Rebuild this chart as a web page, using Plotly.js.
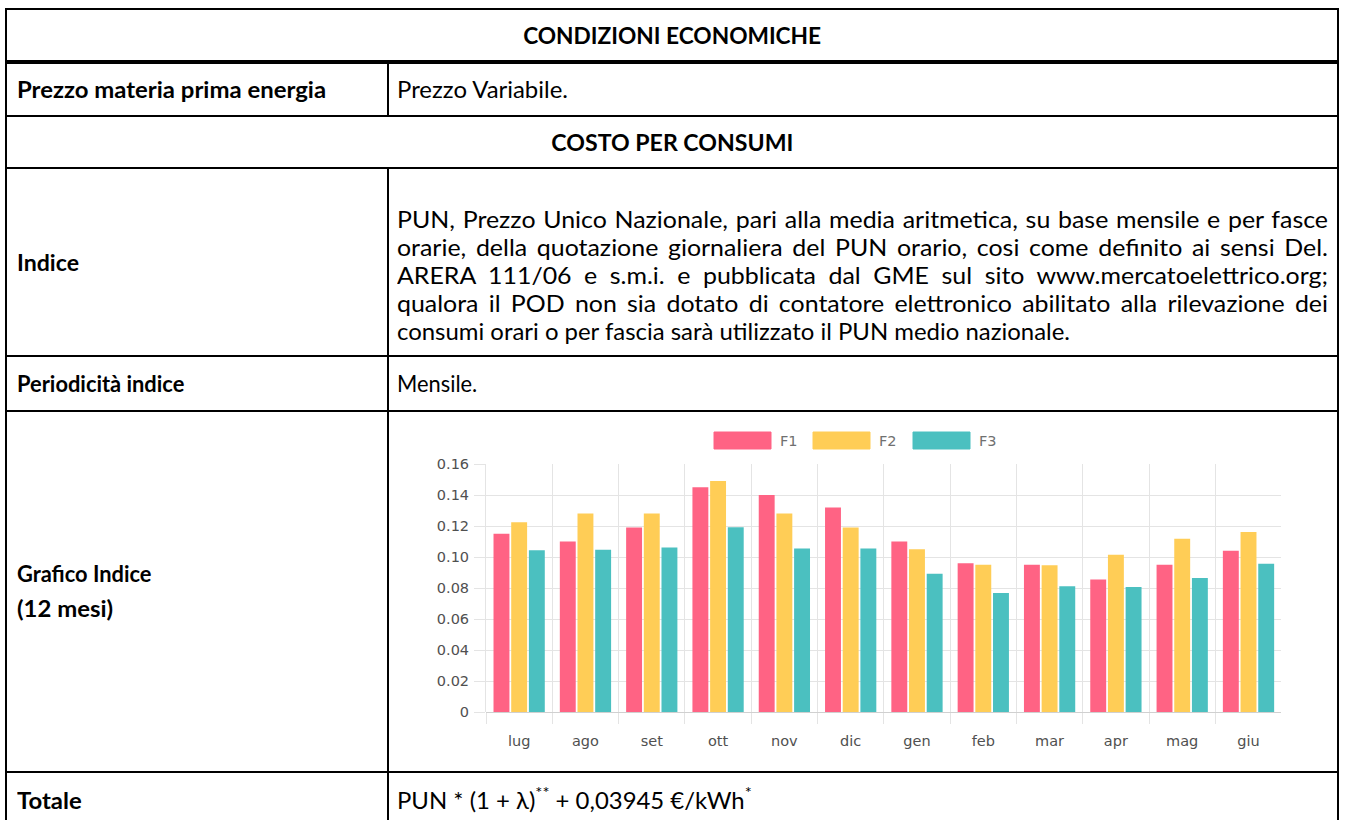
<!DOCTYPE html>
<html>
<head>
<meta charset="utf-8">
<script src="https://cdn.plot.ly/plotly-3.0.1.min.js"></script>
<style>
html,body{margin:0;padding:0;background:#fff;}
body{width:1345px;height:820px;position:relative;overflow:hidden;font-family:Lato,"Noto Sans",sans-serif;color:#000;}
.ln{position:absolute;background:#000;}
.t{position:absolute;white-space:nowrap;font-size:23px;line-height:28px;height:28px;}
.b{font-weight:bold;}
.t > span{display:inline-block;white-space:nowrap;}
.t sup{font-size:16px;line-height:0;vertical-align:11px;}
#chart{position:absolute;left:389px;top:411px;width:948px;height:360px;}
</style>
</head>
<body>
<!-- table lines -->
<div class="ln" style="left:5px;top:8px;width:1334px;height:2px"></div>
<div class="ln" style="left:5px;top:8px;width:2px;height:820px"></div>
<div class="ln" style="left:1337px;top:8px;width:2px;height:820px"></div>
<div class="ln" style="left:5px;top:60px;width:1334px;height:3.5px"></div>
<div class="ln" style="left:5px;top:115px;width:1334px;height:2px"></div>
<div class="ln" style="left:5px;top:167px;width:1334px;height:2px"></div>
<div class="ln" style="left:5px;top:355px;width:1334px;height:2px"></div>
<div class="ln" style="left:5px;top:410px;width:1334px;height:2px"></div>
<div class="ln" style="left:5px;top:771px;width:1334px;height:2px"></div>
<div class="ln" style="left:387px;top:62px;width:2px;height:54px"></div>
<div class="ln" style="left:387px;top:168px;width:2px;height:660px"></div>

<!-- texts -->
<div class="t b" data-w="298" data-c="1" style="left:7px;width:1330px;text-align:center;top:21px"><span>CONDIZIONI ECONOMICHE</span></div>
<div class="t b" data-w="328" style="left:17px;top:75px"><span>Prezzo materia prima energia</span></div>
<div class="t" data-w="178" style="left:397px;top:75px"><span>Prezzo Variabile.</span></div>
<div class="t b" data-w="242" data-c="1" style="left:7px;width:1330px;text-align:center;top:128px"><span>COSTO PER CONSUMI</span></div>
<div class="t b" data-w="62" style="left:17px;top:248px"><span>Indice</span></div>
<div class="t" data-w="931" data-j="1" style="left:397px;top:205px"><span>PUN, Prezzo Unico Nazionale, pari alla media aritmetica, su base mensile e per fasce</span></div>
<div class="t" data-w="931" data-j="1" style="left:397px;top:233px"><span>orarie, della quotazione giornaliera del PUN orario, cosi come definito ai sensi Del.</span></div>
<div class="t" data-w="931" data-j="1" style="left:397px;top:261px"><span>ARERA 111/06 e s.m.i. e pubblicata dal GME sul sito www.mercatoelettrico.org;</span></div>
<div class="t" data-w="931" data-j="1" style="left:397px;top:289px"><span>qualora il POD non sia dotato di contatore elettronico abilitato alla rilevazione dei</span></div>
<div class="t" data-w="706" style="left:397px;top:317px"><span>consumi orari o per fascia sarà utilizzato il PUN medio nazionale.</span></div>
<div class="t b" data-w="165" style="left:17px;top:369px"><span>Periodicità indice</span></div>
<div class="t" data-w="78" style="left:397px;top:369px"><span>Mensile.</span></div>
<div class="t b" data-w="126" style="left:17px;top:559px"><span>Grafico Indice</span></div>
<div class="t b" data-w="103" style="left:17px;top:594px"><span>(12 mesi)</span></div>
<div class="t b" data-w="68" style="left:17px;top:786px"><span>Totale</span></div>
<div class="t" data-w="401" style="left:397px;top:786px"><span>PUN * (1 + λ)<sup>**</sup> + 0,03945 €/kWh<sup>*</sup></span></div>

<div id="chart"></div>

<script>
// ---- data ----
const months = ['lug','ago','set','ott','nov','dic','gen','feb','mar','apr','mag','giu'];
const f1 = [0.115, 0.110, 0.119, 0.145, 0.140, 0.132, 0.110, 0.096, 0.095, 0.0855, 0.095, 0.104];
const f2 = [0.1225, 0.128, 0.128, 0.149, 0.128, 0.119, 0.105, 0.095, 0.0947, 0.1015, 0.1117, 0.1162];
const f3 = [0.1044, 0.1046, 0.1061, 0.1192, 0.1055, 0.1055, 0.0892, 0.0767, 0.0812, 0.0806, 0.0864, 0.0956];
const seriesNames = ['F1', 'F2', 'F3'];
const yTickVals = [0, 0.02, 0.04, 0.06, 0.08, 0.10, 0.12, 0.14, 0.16];
const yTickText = ['0', '0.02', '0.04', '0.06', '0.08', '0.10', '0.12', '0.14', '0.16'];

// ---- styling ----
const colors = ['#FF6384', '#FFCD56', '#4BC0C0'];
const gridC = '#e4e4e4';
const tickFont = {family: 'DejaVu Sans, Arial, sans-serif', size: 14.5, color: '#505050'};
const legFont = {family: 'DejaVu Sans, Arial, sans-serif', size: 14.5, color: '#707070'};

const values = [f1, f2, f3];
const traces = values.map((v, i) => ({
  type: 'bar', x: months, y: v, name: seriesNames[i],
  marker: {color: colors[i], line: {width: 0}},
  hoverinfo: 'skip'
}));

// chart geometry (px in the chart div)
const M = {l: 97, r: 56, t: 53, b: 59};
const W = 948 - M.l - M.r, H = 360 - M.t - M.b;
const ox = 389 + M.l, oy = 411 + M.t + H; // absolute origin
const px = X => (X - ox) / W;
const py = Y => (oy - Y) / H;

const legBoxX = [714, 813, 913];
const shapes = [], annotations = [];
seriesNames.forEach((n, i) => {
  shapes.push({type: 'rect', xref: 'paper', yref: 'paper',
    x0: px(legBoxX[i]), x1: px(legBoxX[i] + 57), y0: py(449), y1: py(432),
    fillcolor: colors[i], line: {width: 1, color: colors[i]}});
  annotations.push({xref: 'paper', yref: 'paper', x: px(legBoxX[i] + 64), y: py(441),
    xanchor: 'left', yanchor: 'middle', showarrow: false, text: n, font: legFont});
});

const layout = {
  width: 948, height: 360, margin: M,
  paper_bgcolor: 'rgba(0,0,0,0)', plot_bgcolor: '#fff',
  barmode: 'group', bargap: 0.2, bargroupgap: 0.1, showlegend: false,
  xaxis: {type: 'category', range: [-0.5, 11.49], tickson: 'boundaries',
    showgrid: true, gridcolor: gridC, gridwidth: 1,
    ticks: 'outside', ticklen: 11, tickcolor: gridC, tickwidth: 1,
    tickfont: tickFont, ticklabelstandoff: 18, zeroline: false, showline: false, fixedrange: true},
  yaxis: {range: [0, 0.16], tickmode: 'array', tickvals: yTickVals, ticktext: yTickText,
    showgrid: true, gridcolor: gridC, gridwidth: 1,
    ticks: 'outside', ticklen: 11, tickcolor: gridC, tickwidth: 1,
    tickfont: tickFont, ticklabelstandoff: 2,
    showline: true, linecolor: gridC, linewidth: 1,
    zeroline: true, zerolinecolor: '#d0d0d0', zerolinewidth: 1, fixedrange: true},
  shapes: shapes, annotations: annotations
};
Plotly.newPlot('chart', traces, layout, {staticPlot: true, displayModeBar: false});

// ---- fit text widths to the reference layout (mild squeeze only) ----
function fit() {
  const els = Array.from(document.querySelectorAll('.t[data-w]'));
  const ratios = [];
  els.forEach(el => {
    if (!el.dataset.j) {
      const w = el.querySelector('span').getBoundingClientRect().width;
      ratios.push(+el.dataset.w / w);
    }
  });
  ratios.sort((a, b) => a - b);
  const s = ratios[Math.floor(ratios.length / 2)];
  els.forEach(el => {
    const sp = el.querySelector('span');
    const target = +el.dataset.w;
    const w = sp.getBoundingClientRect().width;
    sp.style.transformOrigin = el.dataset.c ? '50% 50%' : '0 50%';
    if (el.dataset.j) {
      if (w * s <= target) {
        sp.style.display = 'block';
        sp.style.width = (target / s) + 'px';
        sp.style.whiteSpace = 'normal';
        sp.style.textAlign = 'justify';
        sp.style.textAlignLast = 'justify';
        sp.style.transform = 'scaleX(' + s + ')';
      } else {
        sp.style.transform = 'scaleX(' + (target / w) + ')';
      }
    } else {
      const k = Math.min(1.04, Math.max(0.95, target / w));
      sp.style.transform = 'scaleX(' + k + ')';
    }
  });
}
if (document.fonts && document.fonts.ready) document.fonts.ready.then(fit); else fit();
</script>
</body>
</html>
